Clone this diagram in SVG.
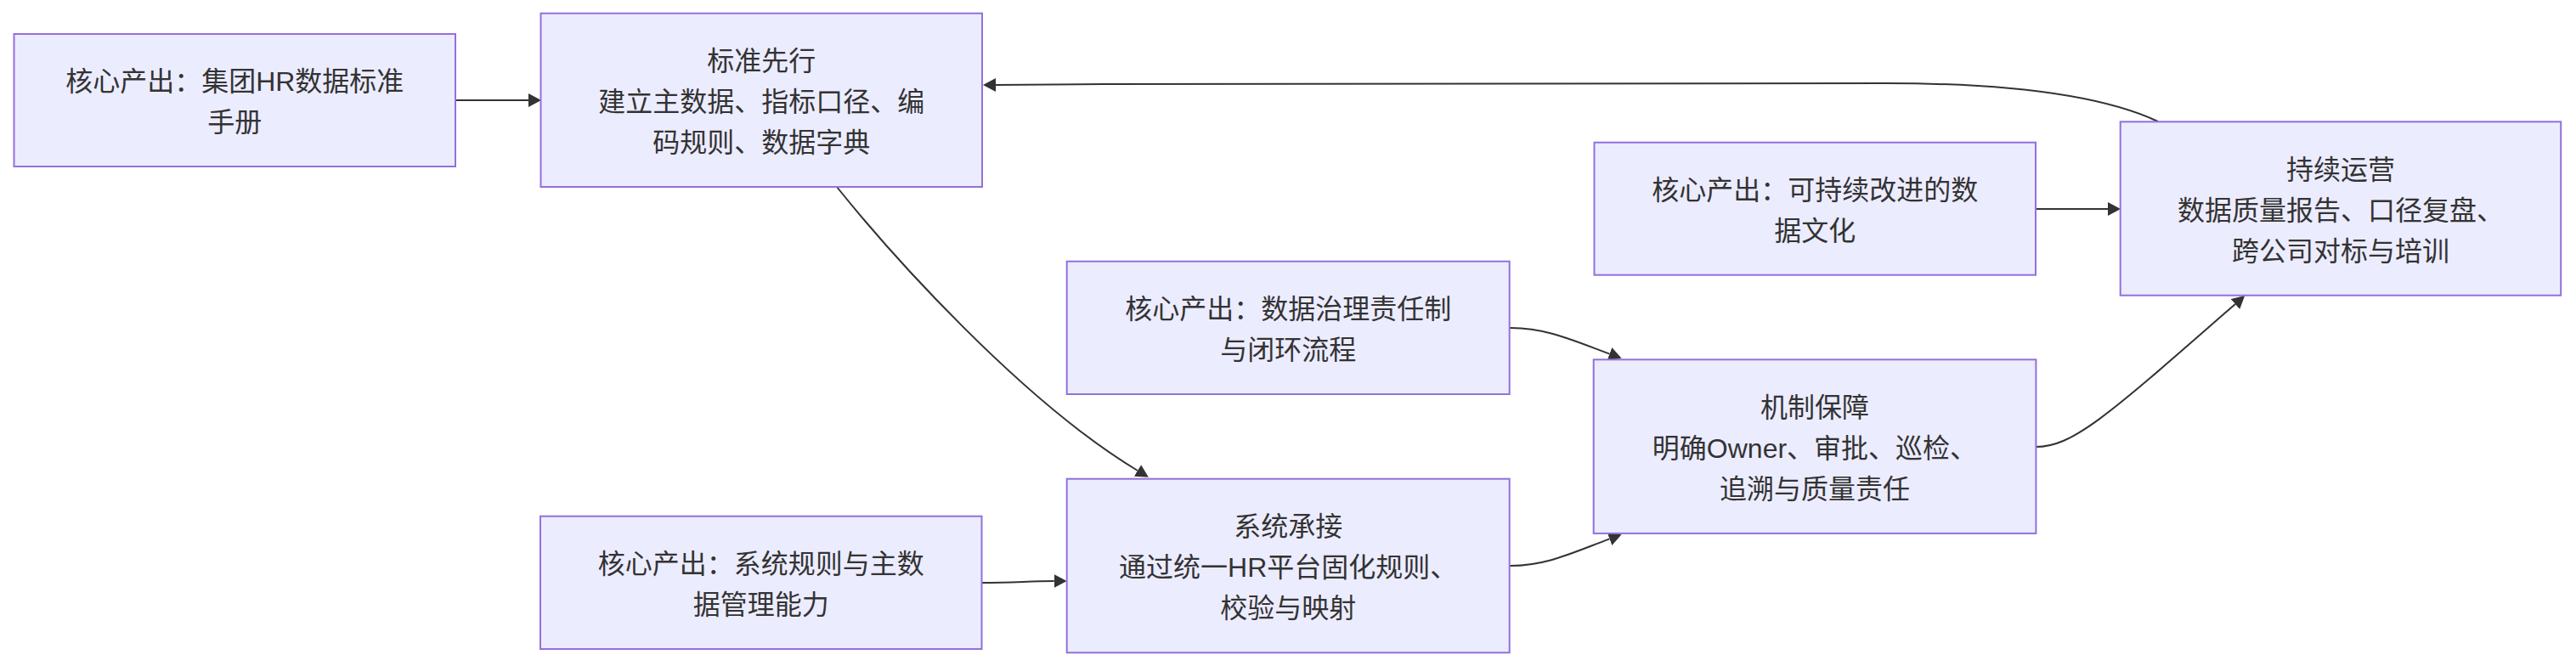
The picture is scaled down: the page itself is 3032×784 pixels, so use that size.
<svg xmlns="http://www.w3.org/2000/svg" width="3032" height="784" viewBox="0 0 3032 784">
  <style>
    .node rect { fill: #ECECFF; stroke: #9370DB; stroke-width: 2; }
    .node text { font-family: "Liberation Sans", "Noto Sans CJK SC", sans-serif; font-size: 32px; fill: #333333; text-anchor: middle; }
    .edge { fill: none; stroke: #333333; stroke-width: 2; marker-end: url(#arrow); }
  </style>
  <defs>
    <marker id="arrow" viewBox="0 0 10 10" refX="0" refY="5" markerUnits="userSpaceOnUse" markerWidth="15" markerHeight="16" orient="auto" preserveAspectRatio="none">
      <path d="M0,0 L10,5 L0,10 z" fill="#333333"/>
    </marker>
  </defs>
  <rect x="0" y="0" width="3032" height="784" fill="#FFFFFF"/>
  <g id="connectors">
    <path class="edge" d="M536,118 L622,118"/>
    <path class="edge" d="M985,220 C1045,295 1200,470 1339,554"/>
    <path class="edge" d="M1156,686 C1195,686 1210,684 1240.7,684"/>
    <path class="edge" d="M1777,386 C1820,386 1850,400 1894.5,416.6"/>
    <path class="edge" d="M1777,666 C1820,666 1850,651 1894.5,634.4"/>
    <path class="edge" d="M2396,526 C2440,526 2480,490 2630.9,358"/>
    <path class="edge" d="M2396,246 L2481,246"/>
    <path class="edge" d="M2540,143 C2480,115 2380,98 2220,98 L1300,99 C1230,99.5 1200,100 1172,100"/>
  </g>
  <g id="node-A" class="node">
    <rect x="16.5" y="40" width="519.5" height="156"/>
    <text x="276.25" y="107">核心产出：集团HR数据标准</text>
    <text x="276.25" y="155">手册</text>
  </g>
  <g id="node-B" class="node">
    <rect x="636.5" y="15.7" width="519.5" height="204.3"/>
    <text x="896.25" y="83">标准先行</text>
    <text x="896.25" y="131">建立主数据、指标口径、编</text>
    <text x="896.25" y="179">码规则、数据字典</text>
  </g>
  <g id="node-E" class="node">
    <rect x="636" y="607.7" width="519.5" height="156.3"/>
    <text x="895.75" y="675">核心产出：系统规则与主数</text>
    <text x="895.75" y="723">据管理能力</text>
  </g>
  <g id="node-C" class="node">
    <rect x="1255.7" y="307.7" width="521" height="156.3"/>
    <text x="1516.2" y="375">核心产出：数据治理责任制</text>
    <text x="1516.2" y="423">与闭环流程</text>
  </g>
  <g id="node-D" class="node">
    <rect x="1255.7" y="563.7" width="521" height="204.6"/>
    <text x="1516.2" y="631">系统承接</text>
    <text x="1516.2" y="679">通过统一HR平台固化规则、</text>
    <text x="1516.2" y="727">校验与映射</text>
  </g>
  <g id="node-F" class="node">
    <rect x="1876.5" y="167.7" width="519.5" height="156"/>
    <text x="2136.25" y="235">核心产出：可持续改进的数</text>
    <text x="2136.25" y="283">据文化</text>
  </g>
  <g id="node-M" class="node">
    <rect x="1875.7" y="423.3" width="520.7" height="204.6"/>
    <text x="2136" y="491">机制保障</text>
    <text x="2136" y="539">明确Owner、审批、巡检、</text>
    <text x="2136" y="587">追溯与质量责任</text>
  </g>
  <g id="node-G" class="node">
    <rect x="2495.7" y="143.3" width="518.5" height="204.4"/>
    <text x="2755" y="211">持续运营</text>
    <text x="2755" y="259">数据质量报告、口径复盘、</text>
    <text x="2755" y="307">跨公司对标与培训</text>
  </g>
</svg>
